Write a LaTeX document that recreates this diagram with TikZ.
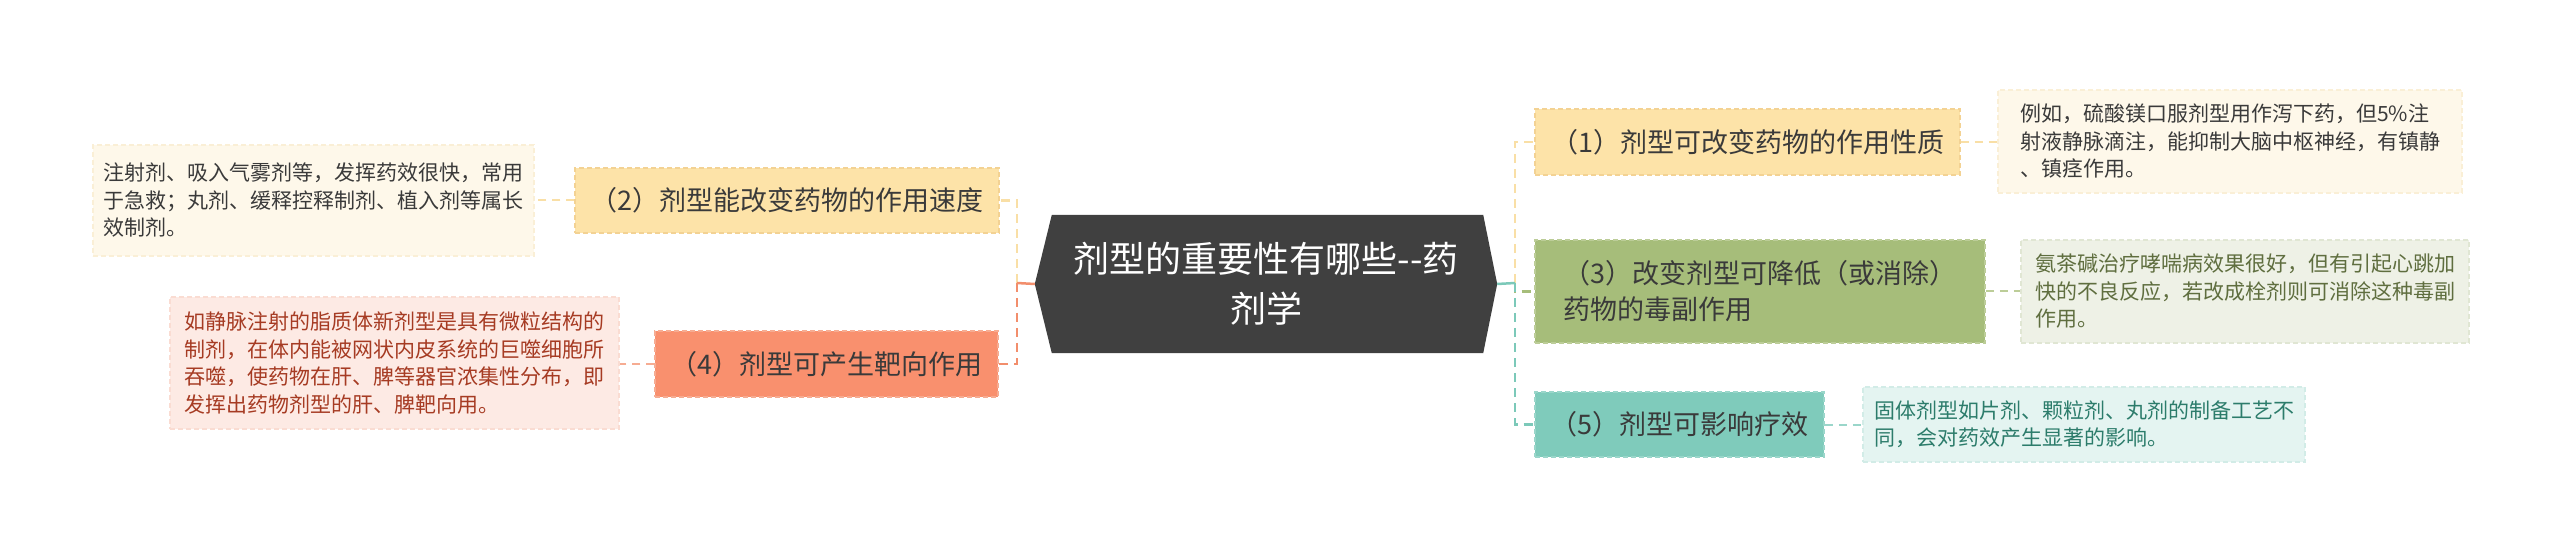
\documentclass[tikz,border=0pt]{standalone}
\usepackage{fontspec}
\setmainfont{Noto Sans CJK SC}
\definecolor{txt}{HTML}{3A3A3A}
\definecolor{ylw}{HTML}{FDE3A8}
\definecolor{ylwb}{HTML}{F3D293}
\definecolor{ylwl}{HTML}{FEF8EA}
\definecolor{ylwlb}{HTML}{FAEFD6}
\definecolor{ylwc}{HTML}{F9DFA6}
\definecolor{sal}{HTML}{F9906E}
\definecolor{salb}{HTML}{F6AC92}
\definecolor{sall}{HTML}{FDEAE4}
\definecolor{sallb}{HTML}{FADCD2}
\definecolor{salt}{HTML}{A63B23}
\definecolor{salc}{HTML}{F28E6C}
\definecolor{grn}{HTML}{A6BD7A}
\definecolor{grnb}{HTML}{BCCD98}
\definecolor{grnl}{HTML}{EEF1E6}
\definecolor{grnlb}{HTML}{E0E6D3}
\definecolor{grnt}{HTML}{5F6E3F}
\definecolor{tea}{HTML}{7FCBBB}
\definecolor{teab}{HTML}{9AD6CA}
\definecolor{teal2}{HTML}{E4F4F1}
\definecolor{tealb}{HTML}{D2ECE7}
\definecolor{teat}{HTML}{2C7C6B}
\definecolor{teac}{HTML}{7CC9B9}
\definecolor{ctr}{HTML}{404040}
\begin{document}
\begin{tikzpicture}[x=1pt,y=-1pt,
  box/.style={rectangle, inner sep=0pt, anchor=center, line width=1.5pt, dash pattern=on 5pt off 3pt},
  mainbox/.style={box, font=\fontsize{27}{36}\selectfont, text=txt},
  detbox/.style={box, font=\fontsize{21}{27.5}\selectfont, align=left},
  conn/.style={line width=2.5pt},
  dconn/.style={line width=2.5pt, dash pattern=on 9pt off 6pt},
  sconn/.style={line width=2pt, dash pattern=on 8pt off 6pt}
]
\useasboundingbox[fill=white] (0,0) rectangle (2560,553);

% central node
\node[rectangle, inner sep=0pt, minimum width=462pt, minimum height=138pt] (c) at (1266,284) {};
\fill[ctr] (c.west) -- ([xshift=17pt]c.north west) -- ([xshift=-14pt]c.north east) -- (c.east)
  -- ([xshift=-14pt]c.south east) -- ([xshift=17pt]c.south west) -- cycle;
\node[align=center, text=white, font=\fontsize{36}{50}\selectfont] (ct) at (c.center) {剂型的重要性有哪些-{}-药\\剂学};

% left side
\node[mainbox, fill=ylw, draw=ylwb, minimum width=424pt, minimum height=65pt] (n2) at (787,200.5) {（2）剂型能改变药物的作用速度};
\node[detbox, fill=ylwl, draw=ylwlb, text=txt, minimum width=441pt, minimum height=111pt] (d2) at (313.5,200.5)
  {注射剂、吸入气雾剂等，发挥药效很快，常用\\于急救；丸剂、缓释控释制剂、植入剂等属长\\效制剂。};
\node[mainbox, fill=sal, draw=salb, minimum width=343pt, minimum height=66pt] (n4) at (826.5,364) {（4）剂型可产生靶向作用};
\node[detbox, fill=sall, draw=sallb, text=salt, minimum width=449pt, minimum height=132pt] (d4) at (394.5,363)
  {如静脉注射的脂质体新剂型是具有微粒结构的\\制剂，在体内能被网状内皮系统的巨噬细胞所\\吞噬，使药物在肝、脾等器官浓集性分布，即\\发挥出药物剂型的肝、脾靶向用。};

% right side
\node[mainbox, fill=ylw, draw=ylwb, minimum width=425pt, minimum height=66pt] (n1) at (1747.5,142) {（1）剂型可改变药物的作用性质};
\node[detbox, fill=ylwl, draw=ylwlb, text=txt, minimum width=464pt, minimum height=103pt] (d1) at (2230,141.5)
  {例如，硫酸镁口服剂型用作泻下药，但5\%注\\射液静脉滴注，能抑制大脑中枢神经，有镇静\\、镇痉作用。};
\node[mainbox, fill=grn, draw=grnb, minimum width=450pt, minimum height=103pt, align=left] (n3) at (1760,291.5) {（3）改变剂型可降低（或消除）\\药物的毒副作用};
\node[detbox, fill=grnl, draw=grnlb, text=grnt, minimum width=448pt, minimum height=103pt] (d3) at (2245,291.5)
  {氨茶碱治疗哮喘病效果很好，但有引起心跳加\\快的不良反应，若改成栓剂则可消除这种毒副\\作用。};
\node[mainbox, fill=tea, draw=teab, minimum width=289pt, minimum height=65pt] (n5) at (1679.5,424.5) {（5）剂型可影响疗效};
\node[detbox, fill=teal2, draw=tealb, text=teat, minimum width=442pt, minimum height=75pt] (d5) at (2084,424.5)
  {固体剂型如片剂、颗粒剂、丸剂的制备工艺不\\同，会对药效产生显著的影响。};

% junctions
\coordinate (jl) at (1017,283);
\coordinate (jr) at (1515,283);

% left connectors
\draw[dconn, ylwc] (jl) |- (n2.east);
\draw[dconn, salc] (jl) |- (n4.east);
\draw[conn, salc] (c.west) -- (jl);
\draw[sconn, ylwc] (n2.west) -- (d2.east);
\draw[sconn, salb] (n4.west) -- (n4.west -| d4.east);

% right connectors
\draw[dconn, ylwc] (jr) |- (n1.west);
\draw[dconn, grn] (jr) |- (n3.west);
\draw[dconn, teac] (jr) |- (n5.west);
\draw[conn, teac] (c.east) -- (jr);
\draw[sconn, ylwc] (n1.east) -- (n1.east -| d1.west);
\draw[sconn, grnb] (n3.east) -- (d3.west);
\draw[sconn, teab] (n5.east) -- (d5.west);
\end{tikzpicture}
\end{document}
